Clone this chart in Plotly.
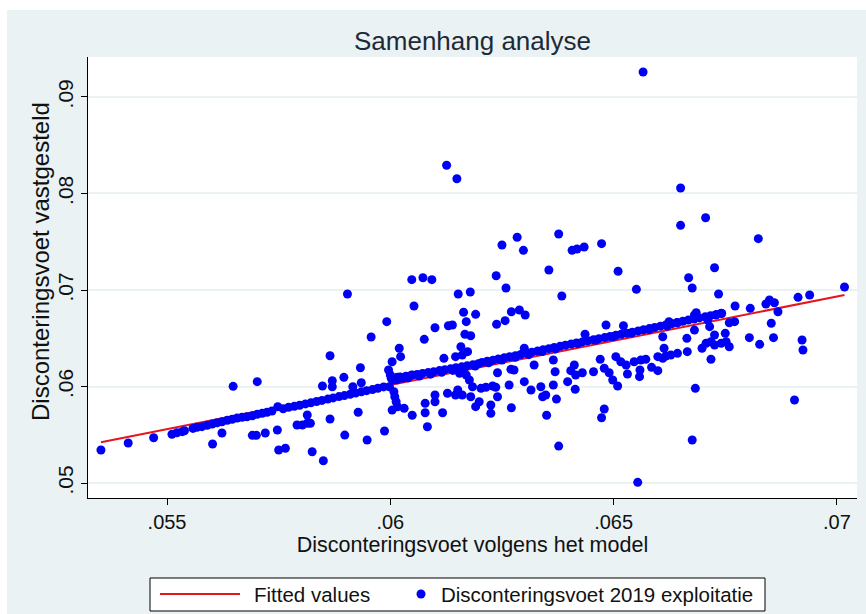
import plotly.graph_objects as go

# ---------------- data ----------------
# (Disconteringsvoet volgens het model, Disconteringsvoet 2019 exploitatie)
upper_points = [
    (0.06126, 0.08292), (0.06149, 0.08153), (0.06048, 0.07107), (0.06073, 0.07127),
    (0.06093, 0.07107), (0.06566, 0.09259), (0.06650, 0.08057), (0.06650, 0.07670),
    (0.06706, 0.07749), (0.06824, 0.07532), (0.06250, 0.07466), (0.06284, 0.07546),
    (0.06298, 0.07411), (0.06377, 0.07580), (0.06407, 0.07411), (0.06418, 0.07425),
    (0.06434, 0.07446), (0.06473, 0.07480), (0.06237, 0.07148), (0.06355, 0.07207),
    (0.06510, 0.07194), (0.06668, 0.07127), (0.06726, 0.07231), (0.06259, 0.07021),
    (0.06551, 0.07007), (0.06676, 0.07021), (0.07017, 0.07031),
    (0.05904, 0.06959), (0.06152, 0.06959), (0.06179, 0.06979), (0.06053, 0.06834),
    (0.05992, 0.06672), (0.05957, 0.06513), (0.05865, 0.06319), (0.05933, 0.06195),
    (0.05896, 0.06095), (0.05870, 0.06060), (0.05870, 0.05998), (0.05848, 0.06005),
    (0.05916, 0.05998), (0.05935, 0.06039), (0.06100, 0.06609), (0.06130, 0.06630),
    (0.06139, 0.06637), (0.06076, 0.06489), (0.06164, 0.06769), (0.06170, 0.06672),
    (0.06167, 0.06541), (0.06180, 0.06526), (0.06191, 0.06748), (0.06020, 0.06396),
    (0.06023, 0.06309), (0.06004, 0.06257), (0.06158, 0.06412), (0.06161, 0.06326),
    (0.06173, 0.06361), (0.06120, 0.06292), (0.06146, 0.06309),
    (0.05648, 0.06002), (0.05702, 0.06050),
    (0.06384, 0.06938), (0.06271, 0.06775), (0.06289, 0.06793), (0.06302, 0.06741),
    (0.06257, 0.06682), (0.06238, 0.06645), (0.06483, 0.06637), (0.06522, 0.06630),
    (0.06436, 0.06541), (0.06300, 0.06396), (0.06610, 0.06516), (0.06613, 0.06396),
    (0.06610, 0.06292),
    (0.06735, 0.06959), (0.06913, 0.06924), (0.06939, 0.06948), (0.06849, 0.06896),
    (0.06860, 0.06868), (0.06841, 0.06855), (0.06868, 0.06775), (0.06772, 0.06834),
    (0.06806, 0.06810), (0.06853, 0.06655), (0.06804, 0.06506), (0.06827, 0.06437),
    (0.06858, 0.06506), (0.06922, 0.06482), (0.06924, 0.06378),
    (0.06681, 0.06741), (0.06685, 0.06765), (0.06741, 0.06759), (0.06729, 0.06741),
    (0.06624, 0.06672), (0.06643, 0.06661), (0.06715, 0.06620), (0.06711, 0.06689),
    (0.06759, 0.06661), (0.06771, 0.06672), (0.06681, 0.06585),
]

band_points = [
    (0.05352, 0.05342), (0.05413, 0.05415), (0.05470, 0.05469), (0.05511, 0.05505),
    (0.05522, 0.05521), (0.05534, 0.05532), (0.05539, 0.05542),
    (0.05558, 0.05566), (0.05567, 0.05577), (0.05578, 0.05584), (0.05590, 0.05598),
    (0.05601, 0.05611), (0.05612, 0.05625), (0.05623, 0.05635), (0.05635, 0.05650),
    (0.05646, 0.05660), (0.05657, 0.05674), (0.05668, 0.05681), (0.05679, 0.05687),
    (0.05691, 0.05697), (0.05702, 0.05712), (0.05713, 0.05722), (0.05724, 0.05733),
    (0.05735, 0.05746), (0.05748, 0.05791),
    (0.05760, 0.05770), (0.05772, 0.05784), (0.05785, 0.05795), (0.05797, 0.05806),
    (0.05810, 0.05820), (0.05822, 0.05831), (0.05835, 0.05845), (0.05847, 0.05856),
    (0.05860, 0.05870), (0.05872, 0.05882), (0.05885, 0.05896), (0.05897, 0.05906),
    (0.05910, 0.05920), (0.05922, 0.05932), (0.05935, 0.05945), (0.05947, 0.05957),
    (0.05960, 0.05968), (0.05972, 0.05982), (0.05985, 0.05996),
    (0.05996, 0.06171), (0.06000, 0.06119), (0.06002, 0.06085), (0.06005, 0.06067),
    (0.05998, 0.05998), (0.06008, 0.05946), (0.06010, 0.05894), (0.06013, 0.05842),
    (0.06016, 0.05790), (0.06004, 0.05756), (0.06031, 0.05774),
    (0.06016, 0.06095), (0.06027, 0.06085), (0.06038, 0.06102), (0.06049, 0.06119),
    (0.06010, 0.06088), (0.06022, 0.06098), (0.06035, 0.06106), (0.06047, 0.06117),
    (0.06060, 0.06125), (0.06072, 0.06136), (0.06085, 0.06146), (0.06097, 0.06152),
    (0.06110, 0.06165), (0.06122, 0.06175), (0.06135, 0.06183), (0.06147, 0.06195),
    (0.06160, 0.06204), (0.06172, 0.06214), (0.06185, 0.06225), (0.06197, 0.06236),
    (0.06015, 0.06070), (0.06040, 0.06090), (0.06065, 0.06108), (0.06090, 0.06128),
    (0.06115, 0.06148), (0.06140, 0.06167), (0.06165, 0.06188), (0.06190, 0.06212),
    (0.06205, 0.06250), (0.06217, 0.06262), (0.06230, 0.06273), (0.06242, 0.06285),
    (0.06255, 0.06297), (0.06267, 0.06308), (0.06280, 0.06320), (0.06292, 0.06332),
    (0.06305, 0.06344), (0.06317, 0.06356), (0.06330, 0.06368), (0.06342, 0.06380),
    (0.06355, 0.06392), (0.06367, 0.06404), (0.06380, 0.06416), (0.06392, 0.06428),
    (0.06220, 0.06245), (0.06250, 0.06275), (0.06280, 0.06303), (0.06310, 0.06330),
    (0.06340, 0.06362), (0.06370, 0.06390),
    (0.06405, 0.06440), (0.06417, 0.06451), (0.06430, 0.06462), (0.06442, 0.06474),
    (0.06455, 0.06485), (0.06467, 0.06496), (0.06480, 0.06507), (0.06492, 0.06518),
    (0.06505, 0.06530), (0.06517, 0.06541), (0.06530, 0.06552), (0.06542, 0.06563),
    (0.06555, 0.06576), (0.06567, 0.06588), (0.06580, 0.06600), (0.06592, 0.06612),
    (0.06605, 0.06625), (0.06617, 0.06638), (0.06630, 0.06650),
    (0.06420, 0.06445), (0.06460, 0.06480), (0.06500, 0.06518), (0.06540, 0.06555),
    (0.06580, 0.06590), (0.06620, 0.06625),
    (0.06642, 0.06664), (0.06655, 0.06676), (0.06667, 0.06688), (0.06680, 0.06699),
    (0.06692, 0.06711), (0.06705, 0.06722), (0.06717, 0.06734), (0.06730, 0.06746),
    (0.06742, 0.06757),
]

lower_points = [
    (0.05602, 0.05404), (0.05623, 0.05518), (0.05691, 0.05494), (0.05700, 0.05494),
    (0.05720, 0.05518), (0.05747, 0.05549), (0.05750, 0.05342),
    (0.05765, 0.05360), (0.05825, 0.05324), (0.05850, 0.05231), (0.05791, 0.05601),
    (0.05803, 0.05601), (0.05814, 0.05619), (0.05821, 0.05619), (0.05814, 0.05705),
    (0.05865, 0.05663), (0.05928, 0.05733), (0.05898, 0.05497), (0.05948, 0.05446),
    (0.05987, 0.05539), (0.06049, 0.05702), (0.06083, 0.05583), (0.06078, 0.05826),
    (0.06078, 0.05728), (0.06100, 0.05912), (0.06100, 0.05842), (0.06117, 0.05728),
    (0.06128, 0.05930), (0.06146, 0.05912), (0.06161, 0.05912), (0.06180, 0.05894),
    (0.06191, 0.05791), (0.06151, 0.05964), (0.06184, 0.05998), (0.06155, 0.06137),
    (0.06170, 0.06119), (0.06177, 0.06067),
    (0.06240, 0.06143), (0.06270, 0.06178), (0.06277, 0.06171), (0.06322, 0.06223),
    (0.06365, 0.06275), (0.06369, 0.06153), (0.06412, 0.06223), (0.06404, 0.06164),
    (0.06415, 0.06119), (0.06430, 0.06143), (0.06455, 0.06153), (0.06470, 0.06282),
    (0.06479, 0.06189), (0.06490, 0.06143), (0.06498, 0.06067), (0.06509, 0.06005),
    (0.06505, 0.06309), (0.06516, 0.06257), (0.06528, 0.06223), (0.06531, 0.06130),
    (0.06546, 0.06257), (0.06561, 0.06275), (0.06572, 0.06282), (0.06559, 0.06171),
    (0.06558, 0.06102), (0.06585, 0.06199), (0.06599, 0.06164), (0.06599, 0.06309),
    (0.06617, 0.06316), (0.06628, 0.06326),
    (0.06266, 0.06016), (0.06300, 0.06050), (0.06315, 0.05964), (0.06337, 0.05998),
    (0.06341, 0.05894), (0.06348, 0.05912), (0.06365, 0.06016), (0.06372, 0.05870),
    (0.06397, 0.06050), (0.06414, 0.05971), (0.06240, 0.05894), (0.06225, 0.05808),
    (0.06225, 0.05722), (0.06203, 0.05981), (0.06214, 0.05992), (0.06229, 0.06005),
    (0.06236, 0.05992), (0.06199, 0.05842), (0.06271, 0.05780), (0.06350, 0.05702),
    (0.06479, 0.05767), (0.06473, 0.05677), (0.06377, 0.05383), (0.06554, 0.05007),
    (0.06905, 0.05860), (0.06683, 0.05981), (0.06676, 0.05446),
    (0.06750, 0.06551), (0.06726, 0.06534), (0.06718, 0.06464), (0.06707, 0.06448),
    (0.06726, 0.06430), (0.06741, 0.06448), (0.06752, 0.06464), (0.06759, 0.06412),
    (0.06698, 0.06396), (0.06718, 0.06282), (0.06664, 0.06499), (0.06665, 0.06361),
    (0.06643, 0.06344),
]

# fitted regression line (end points)
fit_x = [0.05352, 0.07017]
fit_y = [0.05422, 0.06948]

x_tick_vals = [0.055, 0.06, 0.065, 0.07]
x_tick_text = [".055", ".06", ".065", ".07"]
y_tick_vals = [0.05, 0.06, 0.07, 0.08, 0.09]
y_tick_text = [".05", ".06", ".07", ".08", ".09"]

title_text = "Samenhang analyse"
x_title = "Disconteringsvoet volgens het model"
y_title = "Disconteringsvoet vastgesteld"
legend_fit = "Fitted values"
legend_scatter = "Disconteringsvoet 2019 exploitatie"

# ---------------- figure ----------------
all_points = upper_points + band_points + lower_points
model_rate = [p[0] for p in all_points]
fixed_rate = [p[1] for p in all_points]

FONT = "Liberation Sans, Arial, sans-serif"
BG = "#EAF2F3"
TXT = "#111111"
W, H = 866, 614
L, R, T, B = 88, 9, 57, 116
PW, PH = W - L - R, H - T - B


def px(xp):
    return (xp - L) / PW


def py(yp):
    return (H - B - yp) / PH


fig = go.Figure()
fig.add_trace(go.Scatter(x=fit_x, y=fit_y, mode="lines",
                         line=dict(color="#E8141B", width=2),
                         name=legend_fit, showlegend=False, hoverinfo="skip"))
fig.add_trace(go.Scatter(x=model_rate, y=fixed_rate, mode="markers",
                         marker=dict(color="#0000F5", size=9, line=dict(width=0)),
                         name=legend_scatter, showlegend=False))

shapes = [
    # white strips at the top and left edge of the picture
    dict(type="rect", xref="paper", yref="paper", x0=px(-20), x1=px(W + 20),
         y0=py(10), y1=py(-20), fillcolor="white", line=dict(width=0), layer="above"),
    dict(type="rect", xref="paper", yref="paper", x0=px(-20), x1=px(7),
         y0=py(H + 20), y1=py(-20), fillcolor="white", line=dict(width=0), layer="above"),
    # legend box
    dict(type="rect", xref="paper", yref="paper", x0=px(150), x1=px(765),
         y0=py(611), y1=py(578), fillcolor="white", line=dict(color="black", width=1),
         layer="above"),
    dict(type="line", xref="paper", yref="paper", x0=px(160), x1=px(240),
         y0=py(594), y1=py(594), line=dict(color="#E8141B", width=2), layer="above"),
    dict(type="circle", xref="paper", yref="paper", xsizemode="pixel", ysizemode="pixel",
         xanchor=px(421), yanchor=py(594), x0=-4.5, x1=4.5, y0=-4.5, y1=4.5,
         fillcolor="#0000F5", line=dict(width=0), layer="above"),
]

annotations = [
    dict(text=legend_fit, xref="paper", yref="paper", x=px(252), y=py(594),
         xanchor="left", yanchor="middle", showarrow=False,
         font=dict(family=FONT, size=20.5, color=TXT)),
    dict(text=legend_scatter, xref="paper", yref="paper", x=px(439), y=py(594),
         xanchor="left", yanchor="middle", showarrow=False,
         font=dict(family=FONT, size=20.5, color=TXT)),
    # y axis title
    dict(text=y_title, xref="paper", yref="paper", x=px(40), y=py(262),
         xanchor="center", yanchor="middle", textangle=-90, showarrow=False,
         font=dict(family=FONT, size=24, color=TXT)),
]

fig.update_layout(
    width=W, height=H,
    margin=dict(l=L, r=R, t=T, b=B, pad=0),
    paper_bgcolor=BG, plot_bgcolor="white",
    title=dict(text=title_text, x=0.5, xref="paper", y=1 - 41 / H, yref="container",
               xanchor="center", yanchor="middle",
               font=dict(family=FONT, size=26, color="#1E2A38")),
    font=dict(family=FONT, color=TXT),
    shapes=shapes, annotations=annotations,
    showlegend=False,
)

fig.update_xaxes(range=[0.05323, 0.07045], tickvals=x_tick_vals, ticktext=x_tick_text,
                 showgrid=False, zeroline=False, showline=True, linecolor="black",
                 linewidth=1, ticks="outside", ticklen=6, tickcolor="black",
                 tickfont=dict(family=FONT, size=20, color=TXT),
                 title=dict(text=x_title, standoff=1,
                            font=dict(family=FONT, size=21.5, color=TXT)))
fig.update_yaxes(range=[0.04845, 0.09414], tickvals=y_tick_vals, ticktext=y_tick_text,
                 tickangle=-90, showgrid=True, gridcolor=BG, gridwidth=2,
                 zeroline=False, showline=True, linecolor="black", linewidth=1,
                 ticks="outside", ticklen=6, tickcolor="black",
                 tickfont=dict(family=FONT, size=21, color=TXT))

fig.write_html("out.html", config={"displayModeBar": False},
               post_script="document.body.style.margin='0px';")
